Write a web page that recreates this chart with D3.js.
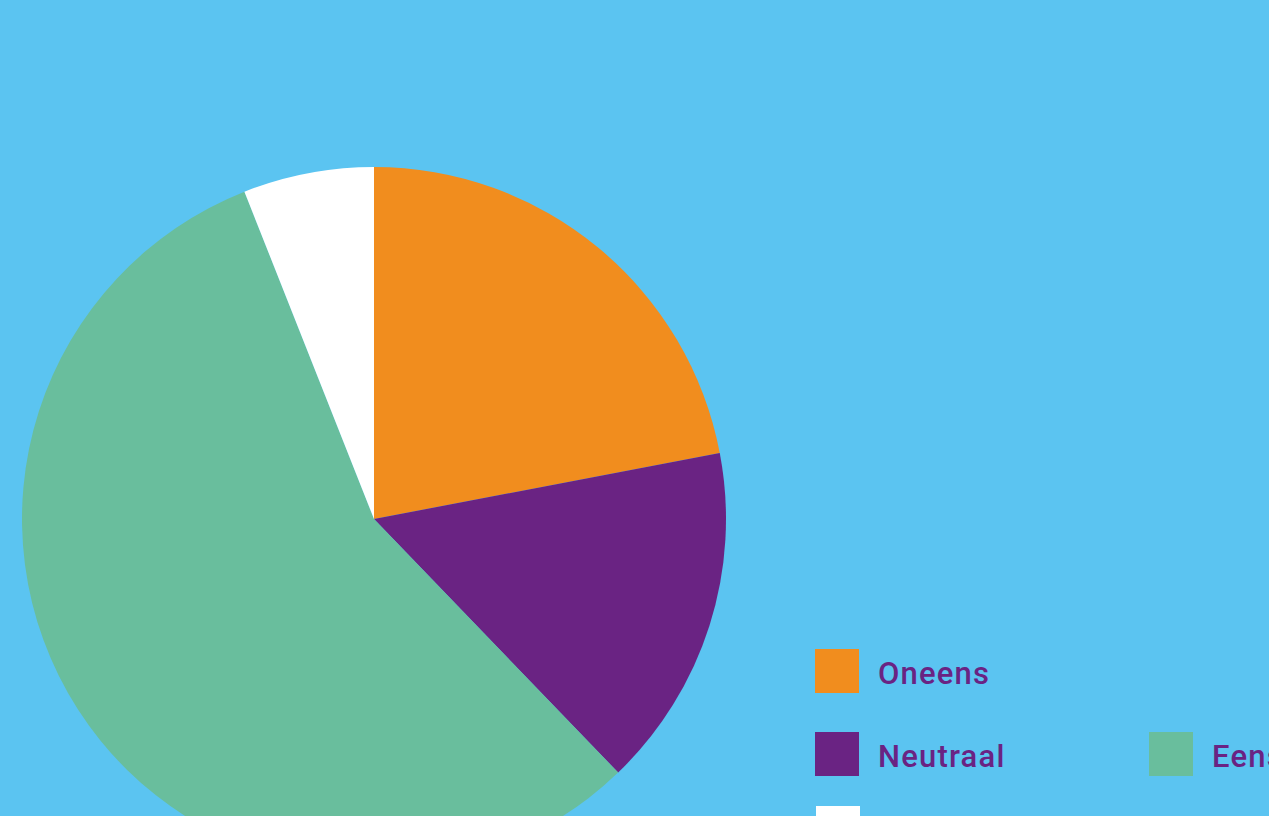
<!DOCTYPE html>
<html><head><meta charset="utf-8">
<script src="https://cdn.jsdelivr.net/npm/d3@7"></script>
<style>html,body{margin:0;padding:0;background:#5BC4F1;overflow:hidden}</style>
</head><body>
<svg id="c" width="1269" height="816"></svg>
<script>
const categories = ["Oneens", "Neutraal", "Eens", "Weet ik niet / geen mening"];
const values = [22, 15.8, 56.2, 6];
const colors = ["#F18D1E", "#6A2383", "#69BE9D", "#FFFFFF"];

const svg = d3.select("#c");
svg.append("rect").attr("width", 1269).attr("height", 816).attr("fill", "#5BC4F1");

const pie = d3.pie().sort(null).value(d => d)(values);
const arc = d3.arc().innerRadius(0).outerRadius(352);
const color = d3.scaleOrdinal().domain(categories).range(colors);

svg.append("g").attr("transform", "translate(374,519)")
  .selectAll("path").data(pie).join("path")
  .attr("d", arc)
  .attr("fill", (d, i) => color(categories[i]));

// legend positions
const legendPos = [[815, 649], [815, 732], [1149, 732], [816, 806]];
const lg = svg.append("g");
categories.forEach((c, i) => {
  const [x, y] = legendPos[i];
  lg.append("rect").attr("x", x).attr("y", y).attr("width", 44).attr("height", 44).attr("fill", color(c));
  lg.append("text").attr("x", x + 63).attr("y", y + 35)
    .attr("font-family", "Roboto, sans-serif").attr("font-weight", 500)
    .attr("font-size", 31).attr("letter-spacing", 1.2)
    .attr("fill", "#6A2383").text(c);
});
</script>
</body></html>
